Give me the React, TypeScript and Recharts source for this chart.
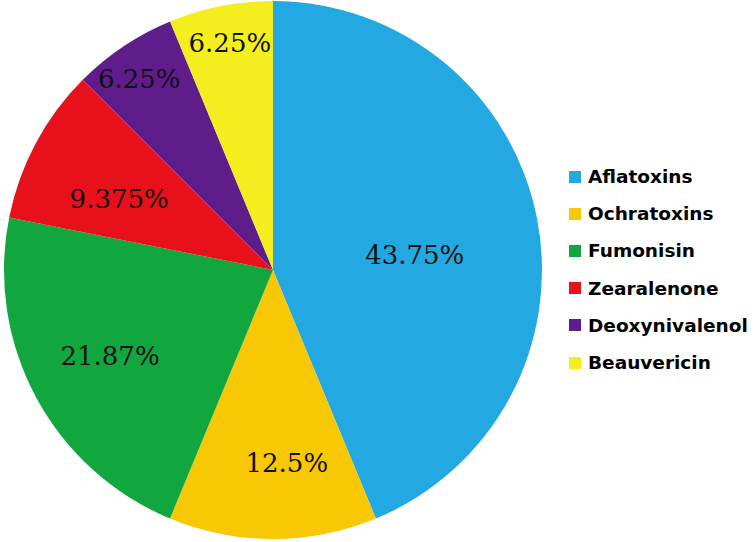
import { PieChart, Pie, Cell } from 'recharts'

const toxins = ['Aflatoxins', 'Ochratoxins', 'Fumonisin', 'Zearalenone', 'Deoxynivalenol', 'Beauvericin']
const shares = [43.75, 12.5, 21.87, 9.375, 6.25, 6.25]
const shareLabels = ['43.75%', '12.5%', '21.87%', '9.375%', '6.25%', '6.25%']
const colors = ['#23A8E2', '#F8C805', '#12A73E', '#E8101A', '#5E1D8B', '#F5EE1E']

// label placement: fraction of radius, and angle nudge (deg) off the slice middle
const labelRadius = [0.53, 0.72, 0.685, 0.63, 0.866, 0.86]
const labelNudge = [-5.1, 4.1, -0.3, 3.3, 1.3, -0.5]

const data = toxins.map((name, i) => ({ name, value: shares[i] }))

const RADIAN = Math.PI / 180

function renderLabel(props: any) {
  const { cx, cy, midAngle, outerRadius, index } = props
  const r = outerRadius * labelRadius[index]
  const a = (midAngle + labelNudge[index]) * RADIAN
  const x = cx + r * Math.cos(-a)
  const y = cy + r * Math.sin(-a)
  return (
    <text
      x={x}
      y={y}
      fill="#111"
      textAnchor="middle"
      dominantBaseline="central"
      style={{ fontFamily: '"DejaVu Serif", serif', fontSize: 26 }}
    >
      {shareLabels[index]}
    </text>
  )
}

function LegendBox() {
  return (
    <div
      style={{
        position: 'absolute',
        left: 569,
        top: 158,
        fontFamily: '"DejaVu Sans", sans-serif',
        fontWeight: 'bold',
        fontSize: 18.5,
        color: '#000',
      }}
    >
      {toxins.map((t, i) => (
        <div key={t} style={{ display: 'flex', alignItems: 'center', height: 37.2 }}>
          <span style={{ display: 'inline-block', width: 12, height: 12, background: colors[i], marginRight: 7 }} />
          <span>{t}</span>
        </div>
      ))}
    </div>
  )
}

export default function App() {
  return (
    <div style={{ position: 'relative', width: 756, height: 542, background: '#fff' }}>
      <style>{'body{margin:0}'}</style>
      <PieChart width={756} height={542} margin={{ top: 0, right: 0, bottom: 0, left: 0 }}>
        <Pie
          data={data}
          dataKey="value"
          nameKey="name"
          cx={273}
          cy={270}
          outerRadius={269}
          startAngle={90}
          endAngle={-270}
          stroke="none"
          label={renderLabel}
          labelLine={false}
          isAnimationActive={false}
        >
          {data.map((_, i) => (
            <Cell key={i} fill={colors[i]} />
          ))}
        </Pie>
      </PieChart>
      <LegendBox />
    </div>
  )
}
